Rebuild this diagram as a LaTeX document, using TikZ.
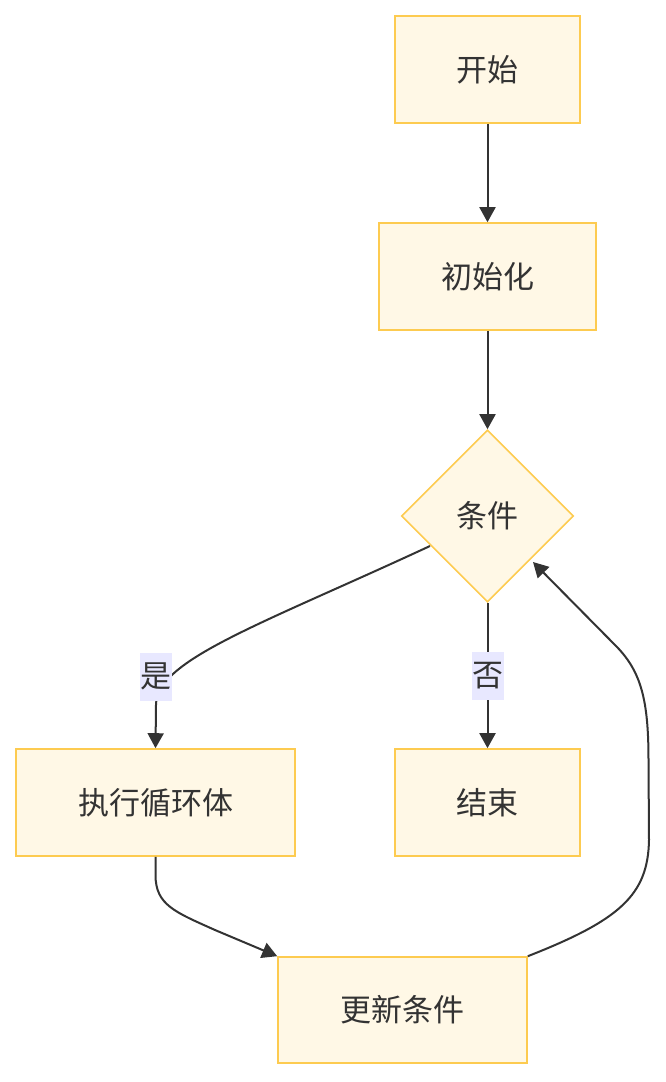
\documentclass[tikz,border=0pt]{standalone}
\usepackage{fontspec}
\setmainfont{Noto Sans CJK SC}
\usetikzlibrary{shapes.geometric,arrows.meta}
\definecolor{nodefill}{HTML}{FFF8E6}
\definecolor{nodeline}{HTML}{FDCB50}
\definecolor{txt}{HTML}{333333}
\definecolor{lblbg}{HTML}{E8E8FF}
\begin{document}
\begin{tikzpicture}[x=1pt,y=-1pt,
  box/.style={draw=nodeline,fill=nodefill,line width=1.6pt,text=txt,inner sep=0pt,font=\fontsize{31}{36}\selectfont},
  cond/.style={box,diamond,aspect=1,minimum width=172pt,minimum height=172pt},
  edgelbl/.style={fill=lblbg,text=txt,inner sep=0pt,minimum width=32pt,minimum height=48pt,font=\fontsize{31}{36}\selectfont},
  conn/.style={draw=txt,line width=2pt,-{Triangle[length=15pt,width=16pt]}}]
\useasboundingbox (0,0) rectangle (666,1082);
\node[box,minimum width=185pt,minimum height=107pt] (start) at (487.5,69.5) {开始};
\node[box,minimum width=217pt,minimum height=107pt] (init) at (487.5,276.5) {初始化};
\node[cond] (cond) at (487.5,516) {条件};
\node[box,minimum width=279pt,minimum height=107pt] (body) at (155.5,802.5) {执行循环体};
\node[box,minimum width=185pt,minimum height=107pt] (end) at (487.5,802.5) {结束};
\node[box,minimum width=249pt,minimum height=106pt] (upd) at (402.5,1010) {更新条件};
\coordinate (c1) at (430,546);
\coordinate (c2) at (649,840);
\coordinate (c3) at (617,647);
\coordinate (b1) at (155.5,875);
\coordinate (b2) at (215,930);
\draw[conn] (start.south) -- (init.north);
\draw[conn] (init.south) -- (cond.north);
\draw[conn] (c1) .. controls (260,625) and (156,660) .. (156,705) -- (body.north);
\draw[conn] (cond.south) -- (end.north);
\draw[conn] (body.south) -- (b1) .. controls (155.5,905) and (175,912) .. (b2) -- (upd.north west);
\draw[conn] (upd.north east) .. controls (620,920) and (648,895) .. (c2) -- (648.5,760) .. controls (648.5,700) and (641,672) .. (c3) -- (533,562);
\node[edgelbl] (yes) at (155.5,676.5) {是};
\node[edgelbl] (no) at (487.5,676) {否};
\end{tikzpicture}
\end{document}
